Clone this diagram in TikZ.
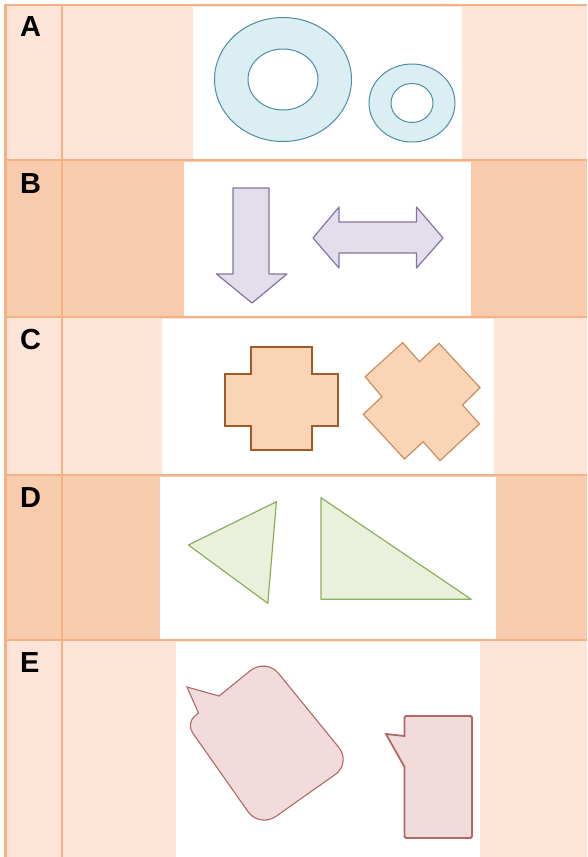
\documentclass[tikz,border=0pt]{standalone}
\usepackage{fontspec}
\setmainfont{Liberation Sans}
\definecolor{cellpale}{HTML}{FCE4D6}
\definecolor{celldark}{HTML}{F8CBAD}
\definecolor{gridline}{HTML}{F4B183}
\definecolor{ringfill}{HTML}{DAEEF3}
\definecolor{ringline}{HTML}{4E8EA0}
\definecolor{arrowfill}{HTML}{E3DEEB}
\definecolor{arrowline}{HTML}{8574A0}
\definecolor{crossfill}{HTML}{F9D4B5}
\definecolor{crossline}{HTML}{A15A28}
\definecolor{xline}{HTML}{C98F5E}
\definecolor{trifill}{HTML}{E9F0DC}
\definecolor{triline}{HTML}{90AD5C}
\definecolor{callfill}{HTML}{F2DCDB}
\definecolor{callline}{HTML}{B06866}
\begin{document}
\begin{tikzpicture}[x=1pt, y=-1pt,
    rowlabel/.style={anchor=base west, inner sep=0pt, font=\bfseries\fontsize{29}{29}\selectfont},
    gridrule/.style={draw=gridline, line width=2.5pt},
    ringshape/.style={fill=ringfill, draw=ringline, line width=1pt, even odd rule},
    arrowshape/.style={fill=arrowfill, draw=arrowline, line width=1.2pt, line join=round},
    crossshape/.style={fill=crossfill, draw=crossline, line width=1.5pt},
    xshape/.style={fill=crossfill, draw=xline, line width=1.2pt},
    trishape/.style={fill=trifill, draw=triline, line width=1.2pt, line join=round},
    callshape/.style={fill=callfill, draw=callline, line width=1.1pt}]
        \useasboundingbox (0,0) rectangle (587,857);

        % row backgrounds
        \fill[cellpale] (5,5) rectangle (587,160);
        \fill[celldark] (5,160) rectangle (587,317);
        \fill[cellpale] (5,317) rectangle (587,475);
        \fill[celldark] (5,475) rectangle (587,640);
        \fill[cellpale] (5,640) rectangle (587,857);

        \fill[white] (193,7) rectangle (462,160);
        \fill[white] (184,162) rectangle (471,317);
        \fill[white] (162,319) rectangle (494,475);
        \fill[white] (160,477) rectangle (496,640);
        \fill[white] (176,642) rectangle (480,857);

        % grid
        \draw[gridrule] (5,5) -- (587,5);
        \draw[gridrule] (5,160) -- (587,160);
        \draw[gridrule] (5,317) -- (587,317);
        \draw[gridrule] (5,475) -- (587,475);
        \draw[gridrule] (5,640) -- (587,640);
        \draw[gridrule] (5.5,4) -- (5.5,857);
        \draw[gridrule] (62,4) -- (62,857);

        \node[rowlabel] (labA) at (20,36) {A};
        \node[rowlabel] (labB) at (20,193) {B};
        \node[rowlabel] (labC) at (20,349) {C};
        \node[rowlabel] (labD) at (20,507) {D};
        \node[rowlabel] (labE) at (20,672) {E};

        % A: rings
        \filldraw[ringshape] (283,79.5) ellipse [x radius=68.5pt, y radius=62pt]
            (283,79.5) ellipse [x radius=35pt, y radius=30.5pt];
        \filldraw[ringshape] (412,103) ellipse [x radius=43pt, y radius=39pt]
            (412,103) ellipse [x radius=21pt, y radius=19.5pt];

        % B: arrows
        \filldraw[arrowshape] (233,188) -- (269,188) -- (269,274) -- (287,274)
            -- (252,303) -- (216.5,274) -- (233,274) -- cycle;
        \filldraw[arrowshape] (313,238) -- (339,207) -- (339,222) -- (416.5,222)
            -- (416.5,207) -- (443,238) -- (416.5,268) -- (416.5,253)
            -- (339,253) -- (339,268) -- cycle;

        % C: crosses
        \filldraw[crossshape] (251,347) -- (312,347) -- (312,374) -- (338,374)
            -- (338,426) -- (312,426) -- (312,450) -- (251,450) -- (251,426)
            -- (225,426) -- (225,374) -- (251,374) -- cycle;
        \filldraw[xshape] (402.6,342.7) -- (419.5,361.7) -- (439,343.3)
            -- (480.1,387.7) -- (462.5,405) -- (479.4,424) -- (440,460.7)
            -- (423.2,441.7) -- (404.5,459) -- (363.3,414.3) -- (382,396.7)
            -- (365.2,376.7) -- cycle;

        % D: triangles
        \filldraw[trishape] (188.4,545) -- (276.4,501.7) -- (267.8,603.3) -- cycle;
        \filldraw[trishape] (321,497.7) -- (321,599.3) -- (471.2,599.3) -- cycle;

        % E: callouts
        \filldraw[callshape] (219,696) [rounded corners=20pt] -- (266,658) -- (351.5,763)
            -- (259.5,828) [rounded corners=12pt] -- (185.7,723) [sharp corners]
            -- (198.5,713) -- (187,687) -- cycle;
        \filldraw[callshape, line width=1.8pt] (404.5,736) [rounded corners=1.5pt]
            -- (404.5,716) -- (472,716) -- (472,838) -- (404.5,838) [sharp corners]
            -- (404.5,767) -- (386,734) -- cycle;
\end{tikzpicture}
\end{document}
